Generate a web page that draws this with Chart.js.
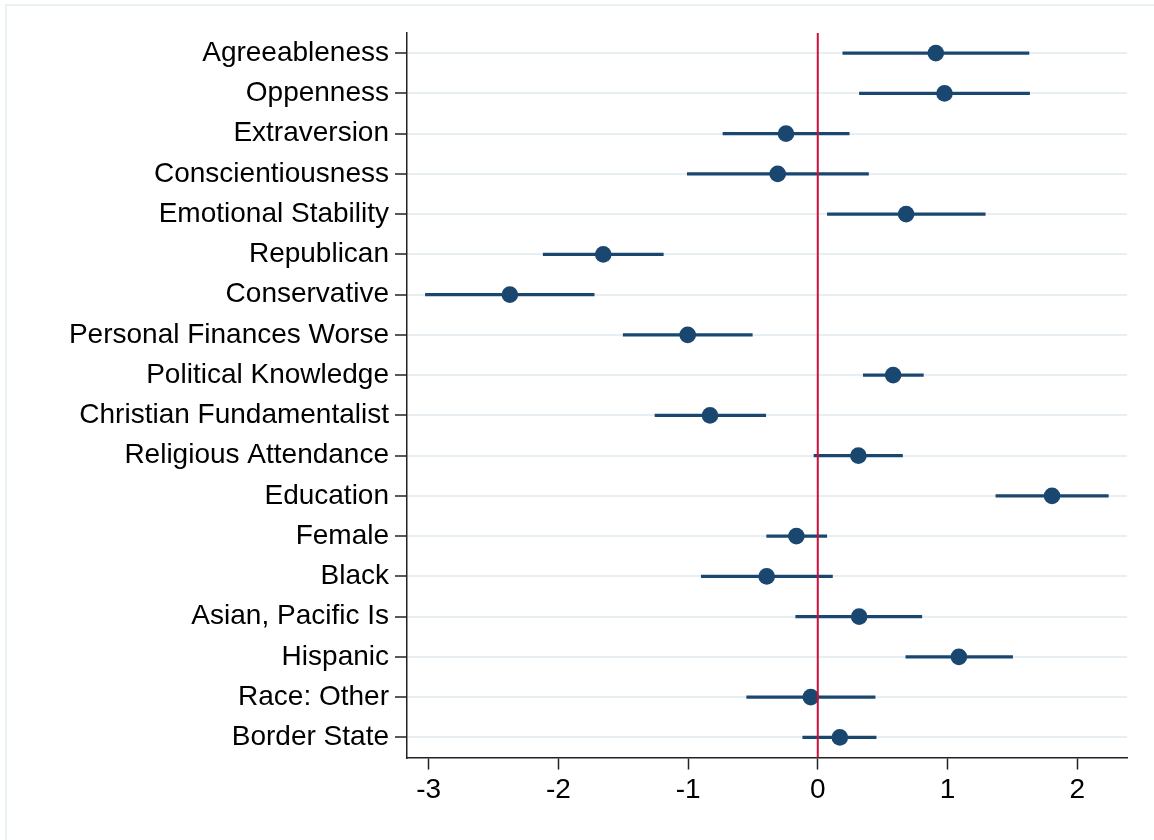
<!DOCTYPE html>
<html>
<head>
<meta charset="utf-8">
<title>Coefficient plot</title>
<script src="https://cdn.jsdelivr.net/npm/chart.js@4.4.1/dist/chart.umd.min.js"></script>
<style>
  html, body { margin: 0; padding: 0; background: #fff; overflow: hidden; }
  #wrap { position: relative; width: 1154px; height: 840px; }
  #frame {
    position: absolute; left: 5px; top: 4px; width: 2000px; height: 2000px;
    border-left: 2px solid #e9f1f3; border-top: 2px solid #e9f1f3;
  }
  canvas { position: absolute; left: 0; top: 0; }
</style>
</head>
<body>
<div id="wrap">
  <div id="frame"></div>
  <canvas id="coefChart" width="1154" height="840"></canvas>
</div>
<script>
// variables, top to bottom
const labels = [
  "Agreeableness", "Oppenness", "Extraversion", "Conscientiousness",
  "Emotional Stability", "Republican", "Conservative", "Personal Finances Worse",
  "Political Knowledge", "Christian Fundamentalist", "Religious Attendance",
  "Education", "Female", "Black", "Asian, Pacific Is", "Hispanic",
  "Race: Other", "Border State"
];

// point estimates
const estimates = [
  0.91, 0.977, -0.245, -0.309, 0.681, -1.654, -2.374, -1.003, 0.581,
  -0.831, 0.313, 1.806, -0.165, -0.394, 0.319, 1.088, -0.054, 0.17
];

// confidence interval bounds
const lower = [
  0.193, 0.321, -0.731, -1.006, 0.074, -2.117, -3.025, -1.5, 0.351,
  -1.255, -0.029, 1.373, -0.394, -0.898, -0.17, 0.679, -0.548, -0.116
];
const upper = [
  1.628, 1.633, 0.242, 0.391, 1.291, -1.191, -1.724, -0.505, 0.814,
  -0.401, 0.653, 2.24, 0.069, 0.113, 0.802, 1.502, 0.442, 0.45
];

const xTicks = [-3, -2, -1, 0, 1, 2];
const xMin = -3.167;
const xMax = 2.384;
const refLine = 0;

const NAVY = "#1a476f";
const FONT = { family: "'Liberation Sans', Arial, sans-serif", size: 28 };

// vertical reference line, drawn over the markers
const refLinePlugin = {
  id: "refLine",
  afterDatasetsDraw(chart) {
    const { ctx, chartArea, scales } = chart;
    const x = scales.x.getPixelForValue(refLine);
    ctx.save();
    ctx.strokeStyle = "#d0103a";
    ctx.lineWidth = 2;
    ctx.beginPath();
    ctx.moveTo(x, chartArea.top);
    ctx.lineTo(x, chartArea.bottom);
    ctx.stroke();
    ctx.restore();
  },
};

new Chart(document.getElementById("coefChart"), {
  type: "bar",
  data: {
    labels,
    datasets: [
      {
        label: "CI",
        data: lower.map((lo, i) => [lo, upper[i]]),
        backgroundColor: NAVY,
        borderWidth: 0,
        barThickness: 2.5,
        order: 2,
      },
      {
        type: "scatter",
        label: "Estimate",
        data: estimates.map((v, i) => ({ x: v, y: labels[i] })),
        backgroundColor: NAVY,
        borderColor: NAVY,
        borderWidth: 0,
        pointRadius: 8.3,
        pointHoverRadius: 8.3,
        order: 1,
      },
    ],
  },
  options: {
    indexAxis: "y",
    responsive: false,
    animation: false,
    events: [],
    layout: { padding: { top: 33, right: 27, left: 0, bottom: 0 } },
    plugins: {
      legend: { display: false },
      tooltip: { enabled: false },
    },
    scales: {
      x: {
        type: "linear",
        min: xMin,
        max: xMax,
        afterBuildTicks: (scale) => {
          scale.ticks = xTicks.map((v) => ({ value: v }));
        },
        afterFit: (scale) => {
          scale.height = 82.5;
        },
        grid: {
          drawOnChartArea: false,
          drawTicks: true,
          tickLength: 12,
          tickColor: "#222",
          tickWidth: 1.5,
        },
        border: { color: "#222", width: 1.5 },
        ticks: {
          color: "#000",
          font: FONT,
          padding: 4,
          maxRotation: 0,
          callback: (v) => String(v),
        },
      },
      y: {
        type: "category",
        offset: true,
        afterFit: (scale) => {
          scale.width = 407;
        },
        grid: {
          offset: false,
          color: "#e8eff2",
          lineWidth: 2,
          drawTicks: true,
          tickLength: 12,
          tickColor: "#222",
          tickWidth: 1.5,
        },
        border: { color: "#222", width: 1.5 },
        ticks: {
          color: "#000",
          font: FONT,
          padding: 6,
          autoSkip: false,
        },
      },
    },
  },
  plugins: [refLinePlugin],
});
</script>
</body>
</html>
